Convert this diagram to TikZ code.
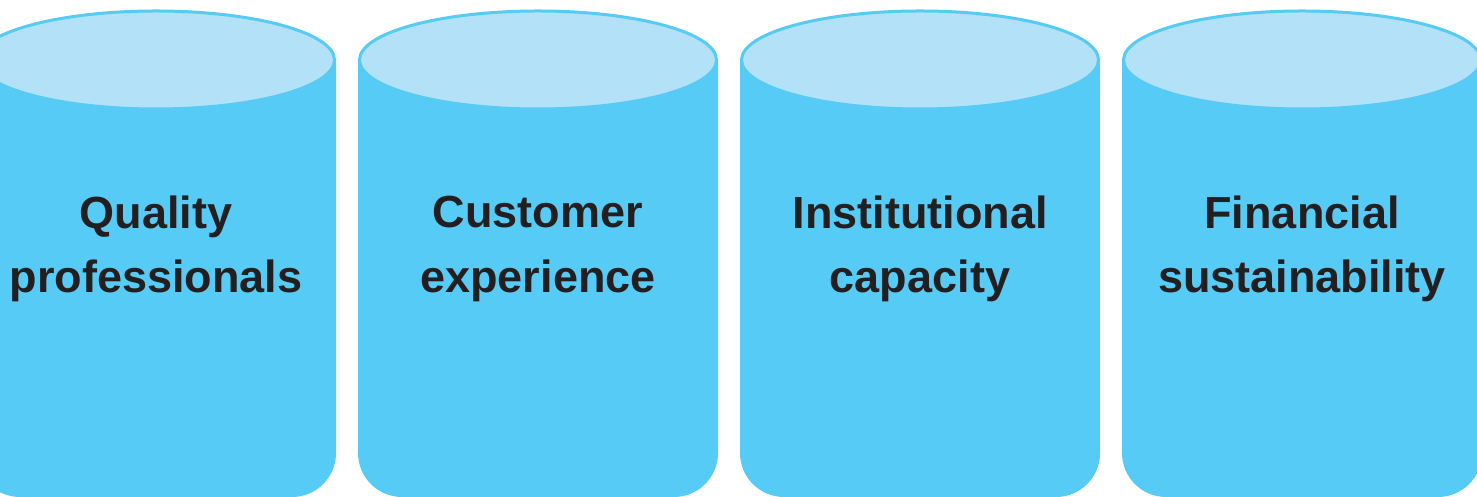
\documentclass[tikz,border=0pt]{standalone}
\usepackage{fontspec}
\setmainfont{Liberation Sans}
\definecolor{drumBody}{HTML}{56CBF5}
\definecolor{drumLid}{HTML}{B3E1F7}
\definecolor{drumText}{HTML}{231F20}
\usetikzlibrary{positioning}
% one pillar: #1 centre x (px), #2 node name, #3 caption
\newcommand{\pillar}[3]{%
  \fill[drumBody] (#1-180,437) -- (#1-180,44)
    arc[start angle=180, end angle=270, radius=44] -- (#1+136,0)
    arc[start angle=270, end angle=360, radius=44] -- (#1+180,437) -- cycle;
  \filldraw[lid] (#1,437) ellipse[x radius=178.5, y radius=49];
  \node[caption] (#2) at (#1,248) {#3};
}

\begin{document}
\begin{tikzpicture}[
  x=0.025cm, y=0.025cm,
  lid/.style={fill=drumLid, draw=drumBody, line width=0.075cm},
  caption/.style={text=drumText, align=center,
    font=\bfseries\fontsize{32}{46}\selectfont}
]
  \useasboundingbox (0,0) rectangle (1477,497);

  \pillar{156}{quality}{Quality\\professionals}
  \pillar{538}{customer}{Customer\\experience}
  \pillar{920}{institution}{Institutional\\capacity}
  \pillar{1302}{finance}{Financial\\sustainability}
\end{tikzpicture}
\end{document}
